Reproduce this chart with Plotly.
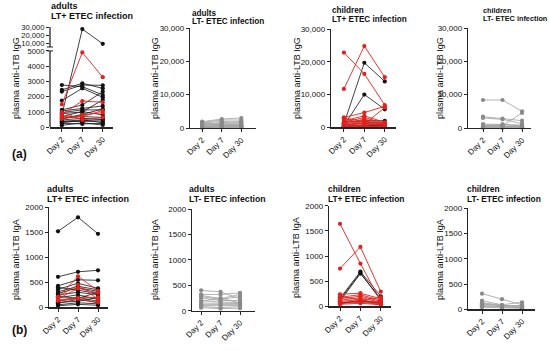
import plotly.graph_objects as go

# ---------------- data ----------------
days = ["Day 2", "Day 7", "Day 30"]

# (a) plasma anti-LTB IgG
adults_ltpos_igg_black = [
    [800, 27500, 9700], [2770, 2660, 2120], [2450, 2880, 2550], [2340, 2770, 2750],
    [1750, 2550, 1970], [1140, 1460, 2340], [1070, 1240, 1400], [960, 1140, 1140],
    [700, 1030, 810], [600, 700, 650], [480, 590, 520], [400, 480, 300],
    [370, 370, 410], [260, 220, 260], [130, 300, 150], [900, 1000, 1800],
    [550, 850, 1200], [300, 450, 500],
]
adults_ltpos_igg_red = [
    [1500, 4900, 3280], [850, 1720, 1640], [550, 810, 960], [1000, 480, 650], [700, 700, 1100],
]
adults_ltneg_igg = [
    [1900, 2700, 3000], [1700, 2400, 2400], [1500, 2000, 1600], [1200, 1700, 2000],
    [1000, 1400, 1300], [800, 1100, 1000], [600, 800, 700], [400, 600, 500],
    [300, 400, 300], [200, 200, 150], [100, 300, 400], [1300, 900, 800], [500, 500, 600],
]
children_ltpos_igg_black = [
    [1000, 19700, 14000], [500, 10000, 5500], [1500, 2000, 2000],
    [800, 1200, 900], [300, 600, 500], [200, 400, 700],
]
children_ltpos_igg_red = [
    [22800, 16300, 6800], [11700, 24800, 15300], [3000, 4500, 6400], [2500, 1000, 6000],
    [2000, 3500, 1500], [1500, 3000, 1200], [1200, 2500, 1000], [1000, 2000, 800],
    [800, 1500, 1300], [600, 1200, 600], [400, 800, 900], [300, 500, 400],
    [200, 300, 200], [2800, 1800, 1100], [100, 200, 300],
]
children_ltneg_igg = [
    [8400, 8400, 5000], [3400, 2800, 2200], [3000, 2600, 1300], [900, 700, 4500],
    [1200, 1000, 900], [600, 500, 700], [400, 300, 400], [200, 150, 300],
    [100, 100, 150], [700, 1100, 500], [300, 600, 200],
]

# (b) plasma anti-LTB IgA
adults_ltpos_iga_black = [
    [1520, 1800, 1470], [610, 710, 740], [430, 550, 540], [360, 480, 380],
    [310, 420, 350], [280, 390, 320], [250, 300, 250], [190, 250, 160],
    [120, 200, 120], [80, 160, 90], [50, 90, 70], [30, 60, 40],
    [100, 120, 200], [400, 340, 280], [220, 180, 300],
]
adults_ltpos_iga_red = [
    [200, 620, 330], [170, 380, 290], [150, 190, 200], [210, 450, 160], [130, 170, 100],
]
adults_ltneg_iga = [
    [400, 370, 230], [320, 320, 350], [300, 240, 320], [280, 220, 280],
    [250, 200, 200], [200, 170, 160], [150, 150, 140], [120, 120, 120],
    [100, 100, 100], [80, 60, 80], [60, 40, 50], [180, 250, 150],
]
children_ltpos_iga_black = [
    [160, 690, 200], [100, 650, 150], [130, 670, 120], [70, 100, 80], [50, 120, 60],
]
children_ltpos_iga_red = [
    [1640, 850, 100], [750, 1180, 290], [240, 260, 150], [180, 230, 120],
    [150, 200, 100], [120, 170, 80], [100, 130, 60], [80, 100, 50],
    [60, 80, 40], [40, 60, 30], [200, 120, 180],
]
children_ltneg_iga = [
    [310, 200, 90], [170, 90, 140], [130, 80, 60], [100, 70, 50],
    [80, 50, 40], [60, 40, 30], [40, 30, 20], [120, 60, 80],
]

igg_ticks = [0, 10000, 20000, 30000]
igg_ticktext = ["0", "10,000", "20,000", "30,000"]
igg_break_ticks = [0, 1000, 2000, 3000, 4000, 5000, 10000, 20000, 30000]
igg_break_ticktext = ["0", "1000", "2000", "3000", "4000", "5000", "10,000", "20,000", "30,000"]
iga_ticks = [0, 500, 1000, 1500, 2000]
iga_ticktext = ["0", "500", "1000", "1500", "2000"]

# ---------------- styling / layout ----------------
W, H = 550, 350
FONT = "Arial, Liberation Sans, sans-serif"
BLACK = "#111111"
RED = "#e3211c"
GRAY_LINE = "#a0a0a0"
GRAY_MARK = "#8a8a8a"
AXIS = "#262626"


def fx(p):
    return p / W


def fy(p):
    return 1 - p / H


# broken y axis of the first panel (lower 0-5000 linear, upper compressed)
def brk(v):
    if v <= 5000:
        return v
    return 5481 + (v - 10000) * 0.05435


BRK_TOP = brk(30000)
BRK_UPPER_START = 5260

panels = [
    dict(series=[(adults_ltpos_igg_black, "k"), (adults_ltpos_igg_red, "r")], xdom=(50, 113), ydom=(27, 127.3),
         xr=(-0.58, 2.5), kind="break", group="adults", lt="LT+ ETEC infection", t1=(49, 6.3), t2=(49, 15.7),
         tsize=9, ytitle="plasma anti-LTB IgG", yt=(16, 78)),
    dict(series=[(adults_ltneg_igg, "g")], xdom=(190, 256), ydom=(28, 128),
         xr=(-0.62, 2.75), kind="igg", group="adults", lt="LT- ETEC infection", t1=(190, 13), t2=(190, 22),
         tsize=8.2, ytitle="plasma anti-LTB IgG", yt=(155, 78)),
    dict(series=[(children_ltpos_igg_black, "k"), (children_ltpos_igg_red, "r")], xdom=(331, 396), ydom=(29, 127.3),
         xr=(-0.63, 2.55), kind="igg", group="children", lt="LT+ ETEC infection", t1=(330, 10), t2=(330, 19.5),
         tsize=8.2, ytitle="plasma anti-LTB IgG", yt=(297, 78)),
    dict(series=[(children_ltneg_igg, "g")], xdom=(468, 531), ydom=(28, 128),
         xr=(-0.77, 2.46), kind="igg", group="children", lt="LT- ETEC infection", t1=(481, 10), t2=(481, 19),
         tsize=7.3, ytitle="plasma anti-LTB IgG", yt=(440, 78)),
    dict(series=[(adults_ltpos_iga_black, "k"), (adults_ltpos_iga_red, "r")], xdom=(49, 108), ydom=(207.3, 307.3),
         xr=(-0.45, 2.5), kind="iga", group="adults", lt="LT+ ETEC infection", t1=(45, 189), t2=(45, 199),
         tsize=9, ytitle="plasma anti-LTB IgA", yt=(16, 260)),
    dict(series=[(adults_ltneg_iga, "g")], xdom=(192, 255), ydom=(209, 310.7),
         xr=(-0.47, 2.77), kind="iga", group="adults", lt="LT- ETEC infection", t1=(187, 189), t2=(187, 198.5),
         tsize=8.7, ytitle="plasma anti-LTB IgA", yt=(155, 260)),
    dict(series=[(children_ltpos_iga_black, "k"), (children_ltpos_iga_red, "r")], xdom=(329, 391), ydom=(205.7, 306.3),
         xr=(-0.54, 2.5), kind="iga", group="children", lt="LT+ ETEC infection", t1=(326, 189), t2=(326, 199),
         tsize=8.4, ytitle="plasma anti-LTB IgA", yt=(296, 258)),
    dict(series=[(children_ltneg_iga, "g")], xdom=(468, 535), ydom=(208.3, 309.3),
         xr=(-0.7, 2.65), kind="iga", group="children", lt="LT- ETEC infection", t1=(465, 189), t2=(465, 199),
         tsize=8.4, ytitle="plasma anti-LTB IgA", yt=(440, 260)),
]

fig = go.Figure()
layout = dict(
    width=W, height=H, margin=dict(l=0, r=0, t=0, b=0, pad=0, autoexpand=False),
    paper_bgcolor="white", plot_bgcolor="white", showlegend=False,
    font=dict(family=FONT, color="#111111"),
)
annotations = []
shapes = []

for i, p in enumerate(panels, start=1):
    xa = "x" if i == 1 else f"x{i}"
    ya = "y" if i == 1 else f"y{i}"
    xkey = "xaxis" if i == 1 else f"xaxis{i}"
    ykey = "yaxis" if i == 1 else f"yaxis{i}"

    for lines, c in p["series"]:
        if c == "k":
            lc, mc, lw = BLACK, BLACK, 0.8
        elif c == "r":
            lc, mc, lw = RED, RED, 0.9
        else:
            lc, mc, lw = GRAY_LINE, GRAY_MARK, 0.8
        for vals in lines:
            yv = [brk(v) for v in vals] if p["kind"] == "break" else vals
            fig.add_trace(go.Scatter(
                x=[0, 1, 2], y=yv, mode="lines+markers", xaxis=xa, yaxis=ya,
                line=dict(color=lc, width=lw), marker=dict(color=mc, size=4.2),
                cliponaxis=False, hoverinfo="skip",
            ))

    x0, x1 = p["xdom"]
    ytop, ybot = p["ydom"]
    layout[xkey] = dict(
        domain=[fx(x0), fx(x1)], range=list(p["xr"]), anchor=ya, automargin=False,
        tickmode="array", tickvals=[0, 1, 2], ticktext=days, tickangle=-45,
        tickfont=dict(size=8, family=FONT, color="#111"),
        showline=True, linecolor=AXIS, linewidth=1.3,
        ticks="outside", ticklen=3, tickwidth=1, tickcolor=AXIS,
        showgrid=False, zeroline=False, fixedrange=True,
    )
    if p["kind"] == "break":
        yr = [0, BRK_TOP]
        tv = [brk(v) for v in igg_break_ticks]
        tt = igg_break_ticktext
        showline = False
        tfs = 7.6
    elif p["kind"] == "igg":
        yr = [0, 30000]
        tv, tt = igg_ticks, igg_ticktext
        showline = True
        tfs = 8
    else:
        yr = [0, 2000]
        tv, tt = iga_ticks, iga_ticktext
        showline = True
        tfs = 8
    layout[ykey] = dict(
        domain=[fy(ybot), fy(ytop)], range=yr, anchor=xa, automargin=False,
        tickmode="array", tickvals=tv, ticktext=tt,
        tickfont=dict(size=tfs, family=FONT, color="#111"),
        showline=showline, linecolor=AXIS, linewidth=1.3,
        ticks="outside", ticklen=3, tickwidth=1, tickcolor=AXIS,
        showgrid=False, zeroline=False, fixedrange=True,
    )
    if p["kind"] == "break":
        ax_x = fx(x0)
        shapes.append(dict(type="line", xref="paper", yref=ya, x0=ax_x, x1=ax_x, y0=0, y1=5000,
                           line=dict(color=AXIS, width=1.3)))
        shapes.append(dict(type="line", xref="paper", yref=ya, x0=ax_x, x1=ax_x, y0=BRK_UPPER_START, y1=BRK_TOP,
                           line=dict(color=AXIS, width=1.3)))
        for yb in (5000, BRK_UPPER_START):
            shapes.append(dict(type="line", xref="paper", yref=ya, x0=fx(x0 - 3), x1=fx(x0 + 3), y0=yb, y1=yb,
                               line=dict(color=AXIS, width=1)))

    # titles
    annotations.append(dict(text=f"<b>{p['group']}</b>", x=fx(p["t1"][0]), y=fy(p["t1"][1]),
                            xref="paper", yref="paper", xanchor="left", yanchor="middle", showarrow=False,
                            font=dict(size=p["tsize"], family=FONT, color="#111")))
    annotations.append(dict(text=f"<b>{p['lt']}</b>", x=fx(p["t2"][0]), y=fy(p["t2"][1]),
                            xref="paper", yref="paper", xanchor="left", yanchor="middle", showarrow=False,
                            font=dict(size=p["tsize"], family=FONT, color="#111")))
    annotations.append(dict(text=p["ytitle"], x=fx(p["yt"][0]), y=fy(p["yt"][1]), textangle=-90,
                            xref="paper", yref="paper", xanchor="center", yanchor="middle", showarrow=False,
                            font=dict(size=9, family=FONT, color="#111")))

annotations.append(dict(text="<b>(a)</b>", x=fx(19), y=fy(154), xref="paper", yref="paper",
                        xanchor="center", yanchor="middle", showarrow=False,
                        font=dict(size=12, family=FONT, color="#111")))
annotations.append(dict(text="<b>(b)</b>", x=fx(19), y=fy(330), xref="paper", yref="paper",
                        xanchor="center", yanchor="middle", showarrow=False,
                        font=dict(size=12, family=FONT, color="#111")))

layout["annotations"] = annotations
layout["shapes"] = shapes
fig.update_layout(**layout)
# remove the browser's default 8px page margin so the 550x350 figure fills the window
fig.write_html("out.html", config={"displayModeBar": False, "staticPlot": True},
               post_script="document.body.style.margin='0';")
